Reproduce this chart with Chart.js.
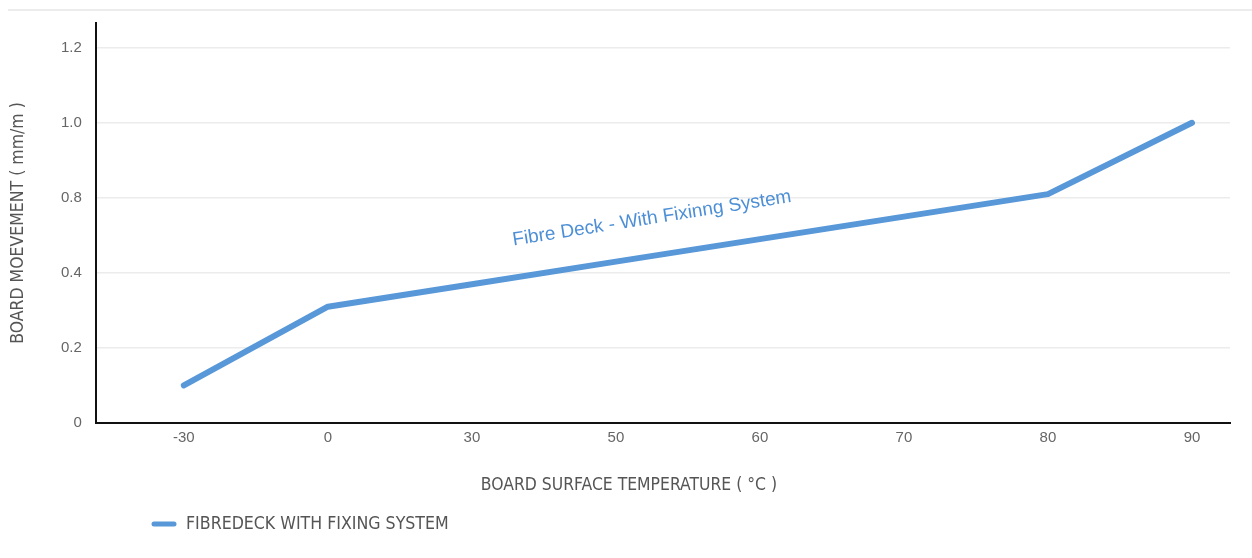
<!DOCTYPE html>
<html lang="en">
<head>
<meta charset="utf-8">
<title>Board movement vs surface temperature</title>
<script src="https://cdn.jsdelivr.net/npm/chart.js@4.4.1/dist/chart.umd.min.js"></script>
<style>
  html, body { margin: 0; padding: 0; background: #fff; }
  .wrap { position: relative; width: 1252px; height: 558px; }
  .topline { position: absolute; top: 9px; left: 8px; right: 0; border-top: 2px solid #ececec; }
  canvas { position: absolute; top: 0; left: 0; }
</style>
</head>
<body>
<div class="wrap">
  <div class="topline"></div>
  <canvas id="chart" width="1252" height="558"></canvas>
</div>
<script>
// temperatures along the bottom, evenly spaced like categories
var xLabels = ['-30', '0', '30', '50', '60', '70', '80', '90'];
// the y axis is labelled unevenly (no 0.6), ticks are evenly spaced
var yTickLabels = ['0', '0.2', '0.4', '0.8', '1.0', '1.2'];
// movement, in the units of the tick labels
var movement = [0.1, 0.31, 0.37, 0.46, 0.58, 0.70, 0.81, 1.0];
var seriesName = 'FIBREDECK WITH FIXING SYSTEM';
var noteText = 'Fibre Deck - With Fixinng System';
var xTitle = 'BOARD SURFACE TEMPERATURE ( \u00B0C )';
var yTitle = 'BOARD MOEVEMENT ( mm/m )';

var lineColor = '#5898d8';
var tickFont = '"Liberation Sans", Arial, Helvetica, sans-serif';
var narrowFont = '"Liberation Sans Narrow", "DejaVu Sans Condensed", "Liberation Sans", sans-serif';

var yTickValues = yTickLabels.map(parseFloat);

// value -> position on the evenly spaced tick scale
function toAxis(v) {
  for (var i = 0; i < yTickValues.length - 1; i++) {
    var a = yTickValues[i], b = yTickValues[i + 1];
    if (v <= b || i === yTickValues.length - 2) {
      return i + (v - a) / (b - a);
    }
  }
  return 0;
}

var points = movement.map(function(v, i) { return { x: i, y: toAxis(v) }; });

// x title sits a bit left of the plot centre, legend below it
var bottomTextPlugin = {
  id: 'bottomText',
  afterDraw: function(chart) {
    var ctx = chart.ctx;
    var area = chart.chartArea;
    var ds = chart.data.datasets[0];
    ctx.save();
    ctx.font = '17.4px ' + narrowFont;
    ctx.fillStyle = '#555';
    ctx.textAlign = 'center';
    ctx.textBaseline = 'middle';
    ctx.fillText(xTitle, (area.left + area.right) / 2 - 34, area.bottom + 62);

    var y = area.bottom + 101;
    ctx.strokeStyle = ds.borderColor;
    ctx.lineWidth = 5;
    ctx.lineCap = 'round';
    ctx.beginPath();
    ctx.moveTo(154, y);
    ctx.lineTo(174, y);
    ctx.stroke();
    ctx.font = '17.6px ' + narrowFont;
    ctx.textAlign = 'left';
    ctx.fillText(ds.label, 186, y);
    ctx.restore();
  }
};

var notePlugin = {
  id: 'note',
  afterDatasetsDraw: function(chart) {
    var ctx = chart.ctx;
    var x = chart.scales.x.getPixelForValue(3.25);
    var y = chart.scales.y.getPixelForValue(toAxis(0.69));
    ctx.save();
    ctx.translate(x, y);
    ctx.rotate(-8.9 * Math.PI / 180);
    ctx.font = '19px ' + tickFont;
    ctx.fillStyle = '#4d8fd6';
    ctx.textAlign = 'center';
    ctx.textBaseline = 'middle';
    ctx.fillText(noteText, 0, 0);
    ctx.restore();
  }
};

new Chart(document.getElementById('chart').getContext('2d'), {
  type: 'line',
  data: {
    datasets: [{
      label: seriesName,
      data: points,
      borderColor: lineColor,
      backgroundColor: lineColor,
      borderWidth: 6,
      borderCapStyle: 'round',
      borderJoinStyle: 'round',
      pointRadius: 0,
      tension: 0,
      fill: false
    }]
  },
  options: {
    responsive: false,
    animation: false,
    layout: { padding: { top: 22, right: 22, left: 0, bottom: 105 } },
    plugins: {
      legend: { display: false },
      tooltip: { enabled: false }
    },
    scales: {
      x: {
        type: 'linear',
        min: -0.611,
        max: 7.264,
        grid: { display: false, drawTicks: false },
        border: { display: true, color: '#111', width: 2 },
        ticks: {
          stepSize: 1,
          includeBounds: false,
          autoSkip: false,
          maxRotation: 0,
          padding: 6,
          color: '#666',
          font: { family: tickFont, size: 15 },
          callback: function(v) { return xLabels[v]; }
        },
        title: { display: false }
      },
      y: {
        type: 'linear',
        min: 0,
        max: 5.33,
        grid: { color: '#ececec', lineWidth: 1.5, drawTicks: false },
        border: { display: true, color: '#111', width: 2 },
        ticks: {
          stepSize: 1,
          includeBounds: false,
          padding: 14,
          color: '#666',
          font: { family: tickFont, size: 15 },
          callback: function(v) { return yTickLabels[v]; }
        },
        title: {
          display: true,
          text: yTitle,
          color: '#555',
          font: { family: narrowFont, size: 17.5 },
          padding: { top: 8, bottom: 18 }
        }
      }
    }
  },
  plugins: [notePlugin, bottomTextPlugin]
});
</script>
</body>
</html>
